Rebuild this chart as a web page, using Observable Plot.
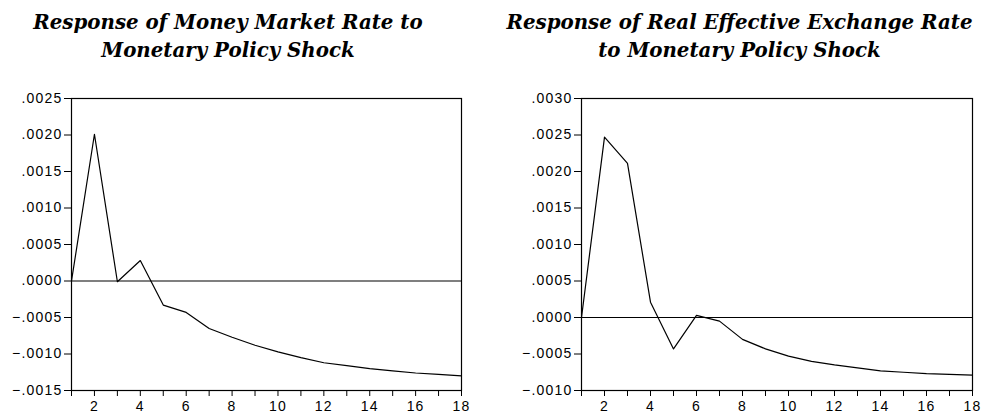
<!DOCTYPE html>
<html>
<head>
<meta charset="utf-8">
<script src="https://cdn.jsdelivr.net/npm/d3@7"></script>
<script src="https://cdn.jsdelivr.net/npm/@observablehq/plot@0.6"></script>
<style>
  html, body { margin: 0; padding: 0; background: #fff; }
  #wrap { display: flex; width: 986px; height: 417px; }
  .col { width: 493px; }
  .title {
    height: 62px; padding-top: 8px;
    font-family: "DejaVu Serif", serif; font-weight: bold; font-style: italic;
    font-size: 19.8px; line-height: 28px; color: #000; text-align: center;
  }
  #t1 { width: 456px; }
  #t2 { width: 493px; }
  svg text { letter-spacing: 1.2px; }
</style>
</head>
<body>
<div id="wrap">
  <div class="col" id="c1"><div class="title" id="t1">Response of Money Market Rate to<br>Monetary Policy Shock</div></div>
  <div class="col" id="c2"><div class="title" id="t2">Response of Real Effective Exchange Rate<br>to Monetary Policy Shock</div></div>
</div>
<script>
const periods = [1,2,3,4,5,6,7,8,9,10,11,12,13,14,15,16,17,18];
const moneyMarket = [0, 0.00201, -0.00001, 0.00028, -0.00033, -0.00043, -0.00065, -0.00077, -0.00088, -0.00097, -0.00105, -0.00112, -0.00116, -0.00120, -0.00123, -0.00126, -0.00128, -0.00130];
const exchangeRate = [0, 0.00247, 0.00211, 0.00021, -0.00043, 0.00003, -0.00005, -0.00030, -0.00043, -0.00053, -0.00060, -0.00065, -0.00069, -0.00073, -0.00075, -0.00077, -0.00078, -0.00079];
const yTicksLeft = [-0.0015, -0.0010, -0.0005, 0, 0.0005, 0.0010, 0.0015, 0.0020, 0.0025];
const yTicksRight = [-0.0010, -0.0005, 0, 0.0005, 0.0010, 0.0015, 0.0020, 0.0025, 0.0030];

const fmtY = d => d3.format(".4f")(Math.abs(d) < 1e-12 ? 0 : d).replace("0.", ".");
const fmtX = d => d % 2 === 0 ? String(d) : "";

function makeChart(values, yTicks, marginLeft, marginRight) {
  const data = periods.map((p, i) => ({p, v: values[i]}));
  return Plot.plot({
    width: 493,
    height: 347,
    marginTop: 28,
    marginBottom: 27,
    marginLeft,
    marginRight,
    style: {fontFamily: "'Liberation Sans', Arial, sans-serif", fontSize: "14px", color: "#000", background: "#fff"},
    x: {domain: [1, 18]},
    y: {domain: [yTicks[0], yTicks[yTicks.length - 1]]},
    marks: [
      Plot.axisX({ticks: periods, tickFormat: fmtX, tickSize: 6, tickPadding: 5, label: null, stroke: "#000", fill: "#000", fontSize: 14}),
      Plot.axisY({ticks: yTicks, tickFormat: fmtY, tickSize: 7, tickPadding: 2, label: null, stroke: "#000", fill: "#000", fontSize: 14}),
      Plot.frame({stroke: "#000", strokeWidth: 1.2}),
      Plot.ruleY([0], {stroke: "#000", strokeWidth: 1.1}),
      Plot.line(data, {x: "p", y: "v", stroke: "#000", strokeWidth: 1.2})
    ]
  });
}

document.getElementById("c1").appendChild(makeChart(moneyMarket, yTicksLeft, 71, 32));
document.getElementById("c2").appendChild(makeChart(exchangeRate, yTicksRight, 88, 14));
</script>
</body>
</html>
